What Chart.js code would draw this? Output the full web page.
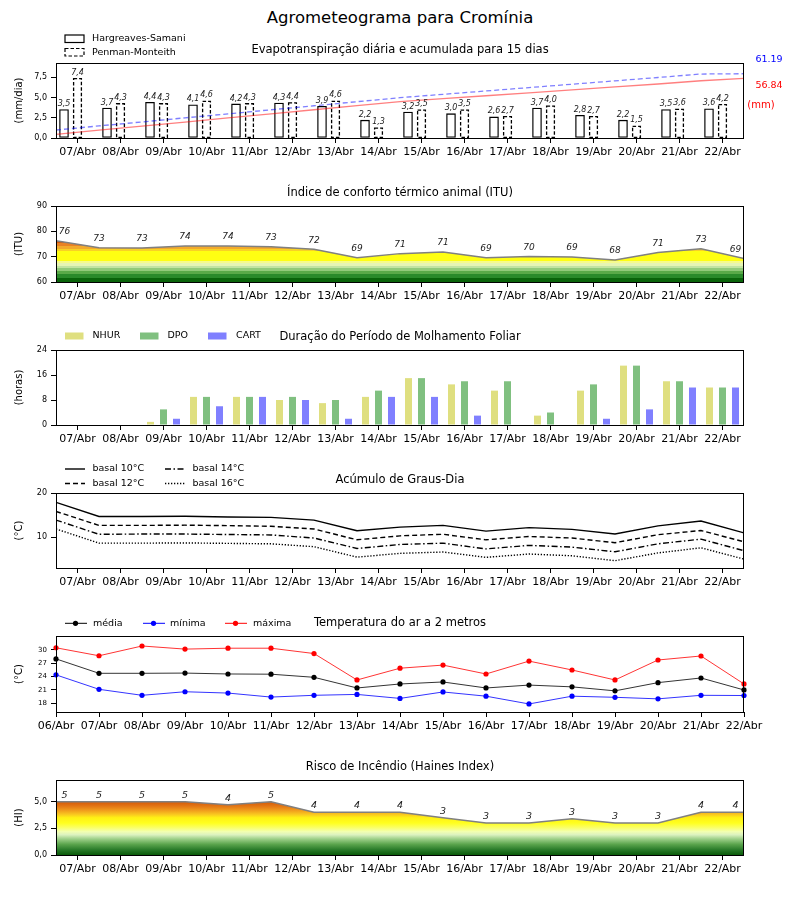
<!DOCTYPE html>
<html>
<head>
<meta charset="utf-8">
<script src="https://cdn.jsdelivr.net/npm/chart.js@4.4.0/dist/chart.umd.min.js"></script>
<style>
  body { margin: 0; background: #fff; }
  #wrap { position: relative; width: 800px; height: 900px; }
  #title { position: absolute; top: 8px; left: 0; width: 800px; text-align: center;
           font: 16.5px "DejaVu Sans"; line-height: 20px; color: #000; }
  canvas { position: absolute; left: 0; }
</style>
</head>
<body>
<div id="wrap">
  <div id="title">Agrometeograma para Cromínia</div>
  <canvas id="c1" width="800" height="141" style="top:23px"></canvas>
  <canvas id="c2" width="800" height="142" style="top:166px"></canvas>
  <canvas id="c3" width="800" height="141" style="top:310px"></canvas>
  <canvas id="c4" width="800" height="141" style="top:453px"></canvas>
  <canvas id="c5" width="800" height="142" style="top:596px"></canvas>
  <canvas id="c6" width="800" height="141" style="top:740px"></canvas>
</div>
<script>
// ---- data ----
var days = ["07/Abr","08/Abr","09/Abr","10/Abr","11/Abr","12/Abr","13/Abr","14/Abr",
            "15/Abr","16/Abr","17/Abr","18/Abr","19/Abr","20/Abr","21/Abr","22/Abr"];
var daysT = ["06/Abr","07/Abr","08/Abr","09/Abr","10/Abr","11/Abr","12/Abr","13/Abr","14/Abr",
             "15/Abr","16/Abr","17/Abr","18/Abr","19/Abr","20/Abr","21/Abr","22/Abr"];

// evapotranspiracao
var etHS = [3.5,3.7,4.4,4.1,4.2,4.3,3.9,2.2,3.2,3.0,2.6,3.7,2.8,2.2,3.5,3.6];
var etPM = [7.4,4.3,4.3,4.6,4.3,4.4,4.6,1.3,3.5,3.5,2.7,4.0,2.7,1.5,3.6,4.2];
var cumHS = [3.5,7.4,11.3,15.2,19.1,23.0,26.9,30.8,34.6,37.4,40.2,43.0,45.8,48.6,51.4,54.5,56.84];
var cumPM = [7.6,11.5,15.3,19.2,23.0,26.9,30.7,34.6,38.4,41.6,44.8,48.0,51.2,54.4,57.6,60.9,61.19];
var totHS = "56.84", totPM = "61.19";
var etTicks = [0, 2.5, 5, 7.5];

// ITU
var itu = [76.3,73.5,73.4,74.2,74.2,73.9,72.9,69.6,71.2,71.8,69.6,70.1,69.9,68.7,71.6,73.1,69.3];
var ituTicks = [60, 70, 80, 90];

// molhamento foliar
var nhur = [0,0,1,9,9,8,7,9,15,13,11,3,11,19,14,12];
var dpo  = [0,0,5,9,9,9,8,11,15,14,14,4,13,19,14,12];
var cart = [0,0,2,6,9,8,2,9,9,3,0,0,2,5,12,12];
var wetTicks = [0, 8, 16, 24];

// graus-dia
var gd10 = [17.9,14.7,14.7,14.75,14.6,14.5,13.9,11.5,12.3,12.7,11.4,12.2,11.8,10.75,12.6,13.7,11.0];
var gd12 = [15.85,12.7,12.7,12.75,12.65,12.5,11.9,9.45,10.35,10.7,9.45,10.2,9.85,8.8,10.6,11.55,9.0];
var gd14 = [13.9,10.7,10.75,10.75,10.65,10.55,9.85,7.5,8.4,8.7,7.4,8.2,7.8,6.75,8.55,9.6,7.0];
var gd16 = [11.9,8.7,8.7,8.75,8.65,8.55,7.9,5.55,6.4,6.7,5.5,6.25,5.85,4.75,6.5,7.65,5.1];
var gdTicks = [10, 20];

// temperatura
var tMed = [28.0,24.75,24.75,24.8,24.6,24.55,23.85,21.45,22.35,22.8,21.45,22.1,21.7,20.8,22.65,23.7,21.0];
var tMin = [24.4,21.15,19.8,20.6,20.3,19.4,19.8,20.0,19.1,20.55,19.6,17.85,19.6,19.35,19.0,19.8,19.75];
var tMax = [30.5,28.7,30.9,30.2,30.4,30.4,29.2,23.25,25.9,26.6,24.6,27.5,25.5,23.25,27.75,28.65,22.35];
var tTicks = [18, 21, 24, 27, 30];

// Haines
var haines = [5,5,5,5,4.7,5,4,4,4,3.5,3,3,3.4,3,3,4,4];
var hiTicks = [0, 2.5, 5];

// ---- helpers ----
Chart.defaults.font.family = "DejaVu Sans";
Chart.defaults.color = "#000";
Chart.defaults.animation = false;

var FONT = "DejaVu Sans";
function comma(v) { return v.toFixed(1).replace(".", ","); }
function pts(arr) { return arr.map(function (v, i) { return { x: i, y: v }; }); }

function xCat(labels, offset) {
  return {
    type: "category", labels: labels, offset: offset,
    grid: { drawOnChartArea: false, drawTicks: true, tickLength: 5, tickColor: "#000", offset: false },
    border: { display: false },
    ticks: { font: { size: 11 }, color: "#000", padding: 3, maxRotation: 0, autoSkip: false },
    afterFit: function (s) { s.height = 26; }
  };
}
function yLin(min, max, tickVals, title, fmt, fsize) {
  return {
    type: "linear", position: "left", min: min, max: max,
    afterBuildTicks: function (s) { s.ticks = tickVals.map(function (v) { return { value: v }; }); },
    ticks: { font: { size: fsize }, color: "#000", padding: 4, callback: fmt },
    grid: { drawOnChartArea: false, drawTicks: true, tickLength: 5, tickColor: "#000" },
    border: { display: false },
    title: { display: true, text: title, font: { size: 10 }, color: "#000", padding: { top: 13, bottom: 0 } },
    afterFit: function (s) { s.width = 56; }
  };
}
var hiddenX = { type: "linear", min: 0, max: 16, display: false, offset: false };
var baseOpts = {
  responsive: false,
  layout: { padding: { top: 40, left: 0, right: 56, bottom: 0 } },
  plugins: { legend: { display: false }, tooltip: { enabled: false } }
};
function opts(scales) {
  var o = JSON.parse(JSON.stringify(baseOpts));
  o.scales = scales;
  return o;
}

function text(ctx, s, x, y, font, color, align) {
  ctx.save();
  ctx.font = font; ctx.fillStyle = color || "#000";
  ctx.textAlign = align || "left"; ctx.textBaseline = "middle";
  ctx.fillText(s, x, y);
  ctx.restore();
}

// box round the plot + panel title
function panel(title, extra) {
  return {
    id: "panel",
    afterDraw: function (chart) {
      var ctx = chart.ctx, a = chart.chartArea;
      ctx.save();
      ctx.strokeStyle = "#000"; ctx.lineWidth = 1;
      ctx.strokeRect(a.left + 0.5, a.top + 0.5, a.right - a.left - 1, a.bottom - a.top);
      ctx.restore();
      text(ctx, title, (a.left + a.right) / 2, a.top - 12.5, "11.5px " + FONT, "#000", "center");
      if (extra) extra(chart, ctx, a);
    }
  };
}

// labels on the area lines (floor of value)
function areaLabels(chart, ctx, a, values, dy, font) {
  var meta = chart.getDatasetMeta(0);
  meta.data.forEach(function (p, i) {
    var x = p.x;
    if (i === 0) x += 8.5;
    if (i === values.length - 1) x -= 8.5;
    text(ctx, String(Math.floor(values[i] + 1e-9)), x, p.y - dy, font, "#222", "center");
  });
}

function bands(stops, smooth) {
  return function (c) {
    var ch = c.chart;
    if (!ch.chartArea) return "transparent";
    var ys = ch.scales.y;
    var y0 = ys.getPixelForValue(ys.min), y1 = ys.getPixelForValue(ys.max);
    var g = ch.ctx.createLinearGradient(0, y0, 0, y1);
    function f(v) { return Math.max(0, Math.min(1, (v - ys.min) / (ys.max - ys.min))); }
    stops.forEach(function (s) {
      if (smooth) g.addColorStop(f(s[0]), s[1]);
      else { g.addColorStop(f(s[0]), s[2]); g.addColorStop(f(s[1]), s[2]); }
    });
    return g;
  };
}

// ---- 1. evapotranspiracao ----
// bar pairs sit on their own index axis, shifted so the Penman bar lands on the tick
var barSlot = 13.5;                          // px per bar slot
var shift = (barSlot / 2) / 43;              // half a slot, in days
var etBar = { xAxisID: "xb", yAxisID: "y", barThickness: barSlot, maxBarThickness: 9 };
new Chart(document.getElementById("c1"), {
  type: "bar",
  data: {
    labels: days,
    datasets: [
      { type: "line", data: pts(cumPM), xAxisID: "xl", yAxisID: "yc",
        borderColor: "rgba(0,0,255,0.5)", borderDash: [5, 3], borderWidth: 1.3, pointRadius: 0, fill: false },
      { type: "line", data: pts(cumHS), xAxisID: "xl", yAxisID: "yc",
        borderColor: "rgba(255,0,0,0.5)", borderWidth: 1.3, pointRadius: 0, fill: false },
      Object.assign({ label: "Hargreaves-Samani", data: pts(etHS),
        backgroundColor: "#fff", borderColor: "#000", borderWidth: 1.3, borderSkipped: false }, etBar),
      Object.assign({ label: "Penman-Monteith", data: pts(etPM),
        backgroundColor: "#fff", borderWidth: 0 }, etBar)
    ]
  },
  options: opts({
    x: xCat(days, true),
    xl: hiddenX,
    xb: { type: "linear", min: -0.5 + shift, max: 15.5 + shift, display: false, offset: false },
    y: yLin(0, 9.25, etTicks, "(mm/dia)", comma, 8),
    yc: { type: "linear", min: 0, max: 71.4, display: false }
  }),
  plugins: [{
    id: "dashbars",
    afterDatasetDraw: function (chart, args) {
      if (args.index !== 3) return;
      var ctx = chart.ctx;
      ctx.save();
      ctx.strokeStyle = "#000"; ctx.lineWidth = 1.3; ctx.setLineDash([3.5, 2]);
      args.meta.data.forEach(function (b) {
        var p = b.getProps(["x", "y", "base", "width"], true);
        ctx.strokeRect(p.x - p.width / 2 + 0.6, p.y + 0.6, p.width - 1.2, p.base - p.y - 0.6);
      });
      ctx.restore();
    }
  }, panel("Evapotranspiração diária e acumulada para 15 dias", function (chart, ctx, a) {
    [2, 3].forEach(function (di) {
      var vals = di === 2 ? etHS : etPM;
      chart.getDatasetMeta(di).data.forEach(function (b, i) {
        ctx.save();
        ctx.font = "italic 8px " + FONT; ctx.fillStyle = "#222";
        ctx.textAlign = "center"; ctx.textBaseline = "bottom";
        ctx.fillText(comma(vals[i]), b.x, b.y - 1.5);
        ctx.restore();
      });
    });
    // legend
    ctx.save();
    ctx.strokeStyle = "#000"; ctx.lineWidth = 1.2; ctx.fillStyle = "#fff";
    ctx.fillRect(65, a.top - 28, 19, 7.5); ctx.strokeRect(65, a.top - 28, 19, 7.5);
    ctx.setLineDash([3.5, 2]);
    ctx.fillRect(65, a.top - 14.5, 19, 7.5); ctx.strokeRect(65, a.top - 14.5, 19, 7.5);
    ctx.restore();
    text(ctx, chart.data.datasets[2].label, 92, a.top - 24.5, "9.5px " + FONT);
    text(ctx, chart.data.datasets[3].label, 92, a.top - 10.5, "9.5px " + FONT);
    // totals
    text(ctx, totPM, a.right + 25, a.top - 3, "9.5px " + FONT, "#0000ff", "center");
    text(ctx, totHS, a.right + 25, a.top + 23, "9.5px " + FONT, "#ff0000", "center");
    text(ctx, "(mm)", a.right + 17, a.top + 42, "10px " + FONT, "#ff0000", "center");
  })]
});

// ---- 2. ITU ----
var ituBands = [
  [60, 61.5, "#0a640a"], [61.5, 63, "#2a8a2a"], [63, 64.3, "#5aaa48"], [64.3, 65.4, "#92ca7a"],
  [65.4, 66.4, "#c2e4a2"], [66.4, 67.4, "#e6f5b4"], [67.4, 68.4, "#f6fb8c"], [68.4, 72.4, "#ffff12"],
  [72.4, 73.2, "#f9d224"], [73.2, 74.2, "#f2aa2c"], [74.2, 75.2, "#e98224"], [75.2, 90, "#d95a0a"]
];
new Chart(document.getElementById("c2"), {
  type: "line",
  data: { datasets: [{ data: pts(itu), xAxisID: "xl", yAxisID: "y", fill: "start",
    backgroundColor: bands(ituBands, false), borderColor: "#808080", borderWidth: 1.5, pointRadius: 0 }] },
  options: opts({ x: xCat(days, true), xl: hiddenX,
    y: yLin(60, 90, ituTicks, "(ITU)", function (v) { return String(v); }, 8) }),
  plugins: [panel("Índice de conforto térmico animal (ITU)", function (chart, ctx, a) {
    areaLabels(chart, ctx, a, itu, 9, "italic 9px " + FONT);
  })]
});

// ---- 3. molhamento foliar ----
new Chart(document.getElementById("c3"), {
  type: "bar",
  data: {
    labels: days,
    datasets: [
      { label: "NHUR", data: nhur, backgroundColor: "#dfdf80", barPercentage: 0.54, categoryPercentage: 0.907 },
      { label: "DPO", data: dpo, backgroundColor: "#80c080", barPercentage: 0.54, categoryPercentage: 0.907 },
      { label: "CART", data: cart, backgroundColor: "#8080ff", barPercentage: 0.54, categoryPercentage: 0.907 }
    ]
  },
  options: opts({ x: xCat(days, true),
    y: yLin(0, 24, wetTicks, "(horas)", function (v) { return String(v); }, 8) }),
  plugins: [panel("Duração do Período de Molhamento Foliar", function (chart, ctx, a) {
    var px = [65, 140, 208], tx = [92.5, 167.5, 236];
    chart.data.datasets.forEach(function (d, i) {
      ctx.fillStyle = d.backgroundColor;
      ctx.fillRect(px[i], a.top - 17.5, 18.5, 7);
      text(ctx, d.label, tx[i], a.top - 14, "9.5px " + FONT);
    });
  })]
});

// ---- 4. graus-dia ----
var gdStyles = [[], [5, 3], [6, 2.5, 1.5, 2.5], [1.3, 1.7]];
new Chart(document.getElementById("c4"), {
  type: "line",
  data: { datasets: [gd10, gd12, gd14, gd16].map(function (arr, i) {
    return { label: ["basal 10°C", "basal 12°C", "basal 14°C", "basal 16°C"][i], data: pts(arr),
      xAxisID: "xl", yAxisID: "y", borderColor: "#000", borderWidth: 1.4, borderDash: gdStyles[i],
      pointRadius: 0, fill: false };
  }) },
  options: opts({ x: xCat(days, true), xl: hiddenX,
    y: yLin(3.1, 20, gdTicks, "(°C)", function (v) { return String(v); }, 8) }),
  plugins: [panel("Acúmulo de Graus-Dia", function (chart, ctx, a) {
    var lx = [65, 65, 165, 165], ly = [-24, -9.5, -24, -9.5], tx = [92.5, 92.5, 192.5, 192.5];
    chart.data.datasets.forEach(function (d, i) {
      ctx.save();
      ctx.strokeStyle = "#000"; ctx.lineWidth = 1.4; ctx.setLineDash(d.borderDash);
      ctx.beginPath(); ctx.moveTo(lx[i], a.top + ly[i]); ctx.lineTo(lx[i] + 20, a.top + ly[i]); ctx.stroke();
      ctx.restore();
      text(ctx, d.label, tx[i], a.top + ly[i], "9.5px " + FONT);
    });
  })]
});

// ---- 5. temperatura ----
var tColors = ["#000000", "#0000ff", "#ff0000"];
new Chart(document.getElementById("c5"), {
  type: "line",
  data: {
    labels: daysT,
    datasets: [tMed, tMin, tMax].map(function (arr, i) {
      return { label: ["média", "mínima", "máxima"][i], data: arr,
        borderColor: ["rgba(0,0,0,0.8)", "rgba(0,0,255,0.8)", "rgba(255,0,0,0.8)"][i], borderWidth: 1,
        pointRadius: 2.6, pointBorderWidth: 0, pointBackgroundColor: tColors[i], fill: false };
    })
  },
  options: opts({ x: xCat(daysT, false),
    y: yLin(16.04, 33.15, tTicks, "(°C)", function (v) { return String(v); }, 7) }),
  plugins: [panel("Temperatura do ar a 2 metros", function (chart, ctx, a) {
    var lx = [65, 143, 225], tx = [93, 170, 253];
    chart.data.datasets.forEach(function (d, i) {
      var y = a.top - 12.7;
      ctx.save();
      ctx.strokeStyle = tColors[i]; ctx.lineWidth = 1;
      ctx.beginPath(); ctx.moveTo(lx[i], y); ctx.lineTo(lx[i] + 22, y); ctx.stroke();
      ctx.fillStyle = tColors[i];
      ctx.beginPath(); ctx.arc(lx[i] + 10.5, y, 2.6, 0, Math.PI * 2); ctx.fill();
      ctx.restore();
      text(ctx, d.label, tx[i], y, "9.5px " + FONT);
    });
  })]
});

// ---- 6. Haines ----
var hiStops = [
  [0, "#0a5a0a"], [0.5, "#2a7c2a"], [1.0, "#5aa44c"], [1.5, "#9ccf88"], [1.9, "#dcf2c0"],
  [2.2, "#f2ffb0"], [2.6, "#fbff60"], [3.0, "#ffff1e"], [3.5, "#fff014"], [3.8, "#f9c820"],
  [4.2, "#f09a1c"], [4.6, "#e27414"], [5.0, "#d45a06"], [7.0, "#c85000"]
];
new Chart(document.getElementById("c6"), {
  type: "line",
  data: { datasets: [{ data: pts(haines), xAxisID: "xl", yAxisID: "y", fill: "start",
    backgroundColor: bands(hiStops, true), borderColor: "#808080", borderWidth: 1.5, pointRadius: 0 }] },
  options: opts({ x: xCat(days, true), xl: hiddenX,
    y: yLin(0, 7.03, hiTicks, "(HI)", comma, 8) }),
  plugins: [panel("Risco de Incêndio (Haines Index)", function (chart, ctx, a) {
    areaLabels(chart, ctx, a, haines, 6.5, "italic 9.5px " + FONT);
  })]
});
</script>
</body>
</html>
